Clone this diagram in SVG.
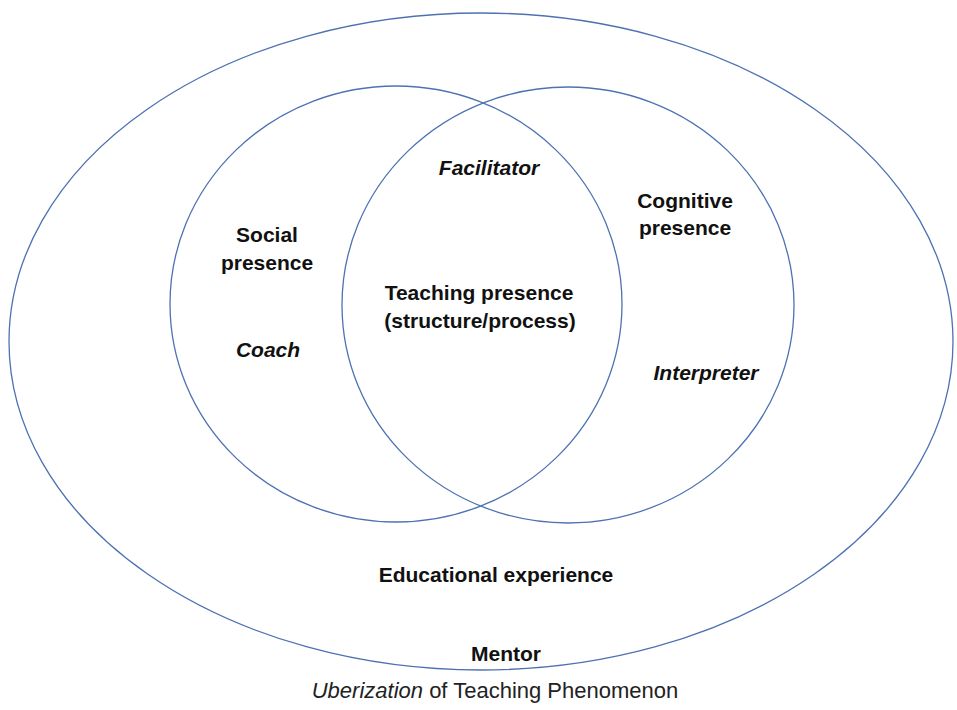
<svg xmlns="http://www.w3.org/2000/svg" width="957" height="710" viewBox="0 0 957 710">
<style>
.ring{fill:none;stroke:#4d72b2;stroke-width:1.3}
.lbl{font-family:"Liberation Sans",Arial,sans-serif;font-weight:bold;font-size:21px;fill:#111;text-anchor:middle}
.it{font-style:italic}
.cap{font-family:"Liberation Sans",Arial,sans-serif;font-size:22px;fill:#222;text-anchor:middle}
</style>
<rect width="957" height="710" fill="#fff"/>
<g id="educational-experience">
<ellipse class="ring" cx="481" cy="341.5" rx="472" ry="328.5"/>
<text class="lbl" x="496" y="582">Educational experience</text>
<text class="lbl" x="506" y="661">Mentor</text>
</g>
<g id="social-presence">
<ellipse class="ring" cx="396" cy="304" rx="226" ry="218"/>
<text class="lbl" x="267" y="242">Social</text>
<text class="lbl" x="267" y="270">presence</text>
<text class="lbl it" x="268" y="357">Coach</text>
</g>
<g id="cognitive-presence">
<ellipse class="ring" cx="568" cy="305" rx="226" ry="218"/>
<text class="lbl" x="685" y="208">Cognitive</text>
<text class="lbl" x="685" y="235">presence</text>
<text class="lbl it" x="706" y="380">Interpreter</text>
</g>
<g id="teaching-presence">
<text class="lbl it" x="489" y="175">Facilitator</text>
<text class="lbl" x="479" y="300">Teaching presence</text>
<text class="lbl" x="480" y="328">(structure/process)</text>
</g>
<g id="connectors"></g>
<g id="caption">
<text class="cap" x="495" y="698"><tspan font-style="italic">Uberization</tspan> of Teaching Phenomenon</text>
</g>
</svg>
